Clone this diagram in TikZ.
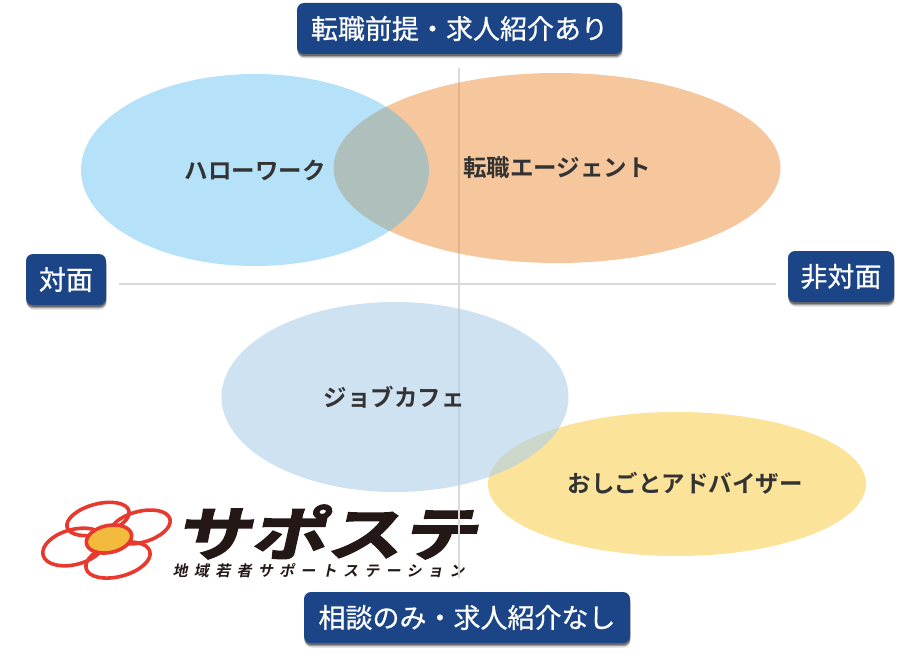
\documentclass[tikz,border=0pt]{standalone}
\usepackage{fontspec}
\setmainfont{Noto Sans CJK JP}
\newfontfamily\logofont[FakeSlant=0.22,FakeStretch=1.3,FakeBold=3]{Noto Sans CJK JP Bold}
\newfontfamily\subfont[FakeSlant=0.2,LetterSpace=42]{Noto Sans CJK JP Bold}
\newfontfamily\btnfont[FakeBold=0.7]{Noto Sans CJK JP}
\newfontfamily\lblfont{Noto Sans CJK JP Bold}
\usetikzlibrary{shapes.geometric,shadows}
\definecolor{navy}{HTML}{1C4587}
\definecolor{axisgray}{HTML}{D9D9D9}
\definecolor{ink}{HTML}{333333}
\definecolor{logored}{HTML}{E8392F}
\definecolor{logoyellow}{HTML}{F2BB3E}
\definecolor{logoink}{HTML}{231815}
\definecolor{zoneyellow}{RGB}{249,199,53}
\definecolor{zoneorange}{RGB}{237,141,57}
\definecolor{zoneblue}{RGB}{70,182,237}
\definecolor{zonepale}{RGB}{175,207,233}
\tikzset{
  btn/.style={fill=navy,rounded corners=7pt,text=white,font=\btnfont\fontsize{27}{27}\selectfont,
    inner sep=0pt,outer sep=0pt,anchor=center,minimum height=51pt,
    drop shadow={shadow xshift=0.6pt,shadow yshift=-4.5pt,opacity=.15,fill=black},
    drop shadow={shadow xshift=0.4pt,shadow yshift=-3.2pt,opacity=.25,fill=black},
    drop shadow={shadow xshift=0.2pt,shadow yshift=-2pt,opacity=.35,fill=black}},
  axisline/.style={draw=axisgray,line width=2.6pt},
  zone/.style={ellipse,inner sep=0pt,outer sep=0pt},
  lbl/.style={text=ink,font=\lblfont\fontsize{23.5}{23.5}\selectfont,inner sep=0pt},
  petal/.style={ellipse,draw=logored,line width=3.6pt,inner sep=0pt,rotate=15},
}
\begin{document}
\begin{tikzpicture}[x=1pt,y=-1pt]
\useasboundingbox (0,0) rectangle (920,655);
% logo
\node[petal,minimum width=64pt,minimum height=30pt] (p1) at (98,519) {};
\node[petal,minimum width=62pt,minimum height=31pt] (p2) at (140,527) {};
\node[petal,minimum width=64pt,minimum height=35pt] (p3) at (74,547) {};
\node[petal,minimum width=66pt,minimum height=33pt] (p4) at (118,560) {};
\node[petal,fill=logoyellow,rotate=-3,minimum width=46pt,minimum height=27pt] (p5) at (109,539) {};
\node[inner sep=0pt,text=logoink,font=\logofont\fontsize{58}{58}\selectfont] (logo) at (326,532) {サポステ};
\node[inner sep=0pt,text=logoink,font=\subfont\fontsize{15}{15}\selectfont] (sublogo) at (318.5,571) {地域若者サポートステーション};
% axes
\coordinate (vtop) at (459,68);
\coordinate (vbot) at (459,578);
\coordinate (hleft) at (119,284);
\coordinate (hright) at (776,284);
\draw[axisline] (vtop) -- (vbot);
\draw[axisline] (hleft) -- (hright);
% zones
\node[zone,fill=zoneyellow,fill opacity=.5,minimum width=378pt,minimum height=144pt] (zy) at (677,484) {};
\node[zone,fill=zoneorange,fill opacity=.5,minimum width=447pt,minimum height=190pt] (zo) at (557,168) {};
\node[zone,fill=zoneblue,fill opacity=.4,minimum width=348pt,minimum height=192pt] (zb) at (255,170) {};
\node[zone,fill=zonepale,fill opacity=.6,minimum width=347pt,minimum height=190pt] (zc) at (395,397) {};
% labels
\node[lbl] (t1) at (255,171) {ハローワーク};
\node[lbl] (t2) at (557,168) {転職エージェント};
\node[lbl] (t3) at (394,397) {ジョブカフェ};
\node[lbl] (t4) at (685,483) {おしごとアドバイザー};
% buttons
\node[btn,minimum width=325pt] (top) at (459.5,28.5) {転職前提・求人紹介あり};
\node[btn,minimum width=326pt] (bot) at (467,617.5) {相談のみ・求人紹介なし};
\node[btn,minimum width=80pt] (left) at (66,279.5) {対面};
\node[btn,minimum width=106pt] (right) at (841,276.5) {非対面};
\end{tikzpicture}
\end{document}
